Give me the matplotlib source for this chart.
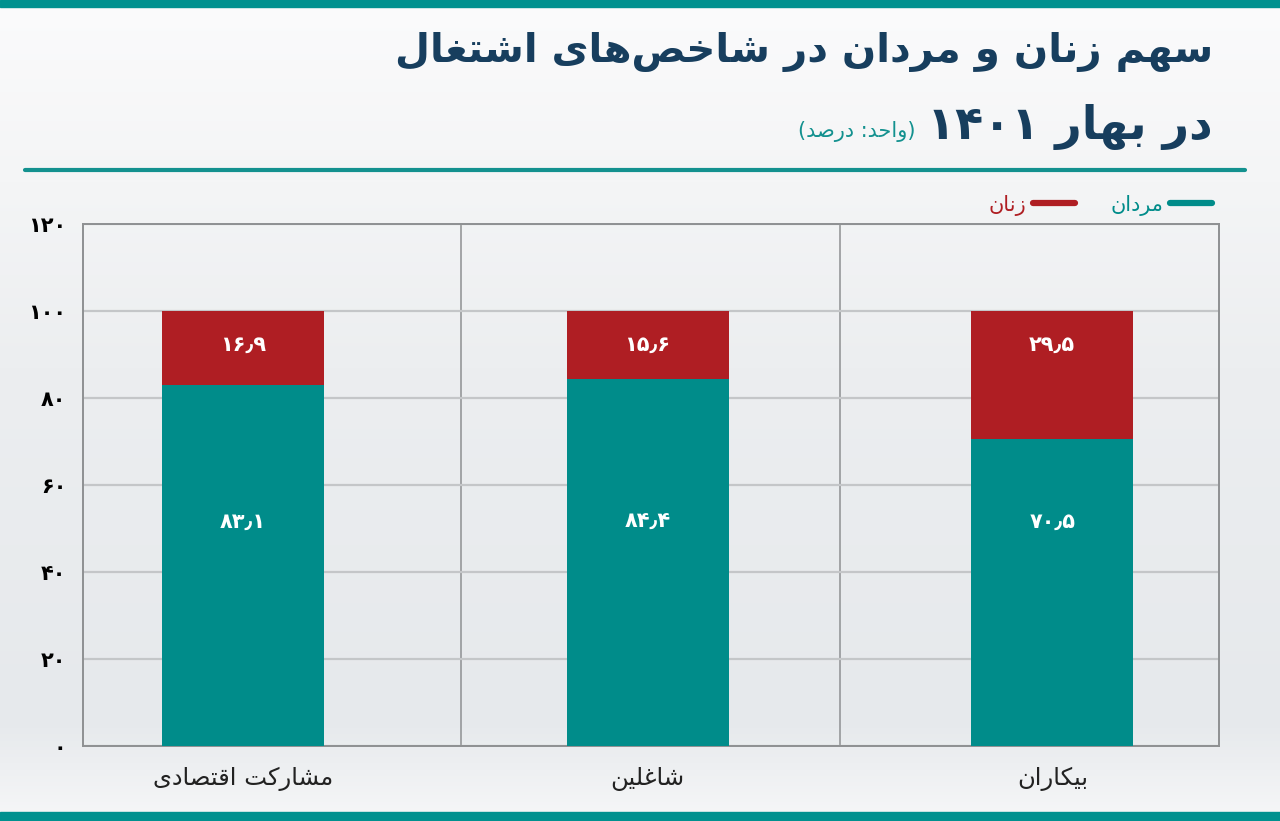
import re
import numpy as np
import matplotlib
matplotlib.use("Agg")
import matplotlib.pyplot as plt
from matplotlib.lines import Line2D
from matplotlib.colors import LinearSegmentedColormap

plt.rcParams['font.family'] = ['DejaVu Sans']

# داده‌ها
categories = ['مشارکت اقتصادی', 'شاغلین', 'بیکاران']
men = [83.1, 84.4, 70.5]
women = [16.9, 15.6, 29.5]
men_labels = ['۸۳٫۱', '۸۴٫۴', '۷۰٫۵']
women_labels = ['۱۶٫۹', '۱۵٫۶', '۲۹٫۵']
yticks = [0, 20, 40, 60, 80, 100, 120]
ytick_labels = ['۰', '۲۰', '۴۰', '۶۰', '۸۰', '۱۰۰', '۱۲۰']

title1 = 'سهم زنان و مردان در شاخص\u200cهای اشتغال'
title2 = 'در بهار ۱۴۰۱'
unit = '(واحد: درصد)'
legend_names = ['زنان', 'مردان']

TEAL = '#008c8a'
RED = '#af1e23'
NAVY = '#173e5e'

# حروف فارسی: (جدا، پایانی، آغازی، میانی)
FORMS = {
    'ا': ('\uFE8D', '\uFE8E', None, None),
    'ب': ('\uFE8F', '\uFE90', '\uFE91', '\uFE92'),
    'ت': ('\uFE95', '\uFE96', '\uFE97', '\uFE98'),
    'ح': ('\uFEA1', '\uFEA2', '\uFEA3', '\uFEA4'),
    'خ': ('\uFEA5', '\uFEA6', '\uFEA7', '\uFEA8'),
    'د': ('\uFEA9', '\uFEAA', None, None),
    'ر': ('\uFEAD', '\uFEAE', None, None),
    'ز': ('\uFEAF', '\uFEB0', None, None),
    'س': ('\uFEB1', '\uFEB2', '\uFEB3', '\uFEB4'),
    'ش': ('\uFEB5', '\uFEB6', '\uFEB7', '\uFEB8'),
    'ص': ('\uFEB9', '\uFEBA', '\uFEBB', '\uFEBC'),
    'غ': ('\uFECD', '\uFECE', '\uFECF', '\uFED0'),
    'ق': ('\uFED5', '\uFED6', '\uFED7', '\uFED8'),
    'ل': ('\uFEDD', '\uFEDE', '\uFEDF', '\uFEE0'),
    'م': ('\uFEE1', '\uFEE2', '\uFEE3', '\uFEE4'),
    'ن': ('\uFEE5', '\uFEE6', '\uFEE7', '\uFEE8'),
    'ه': ('\uFEE9', '\uFEEA', '\uFEEB', '\uFEEC'),
    'و': ('\uFEED', '\uFEEE', None, None),
    'ی': ('\uFBFC', '\uFBFD', '\uFBFE', '\uFBFF'),
    'ک': ('\uFB8E', '\uFB8F', '\uFB90', '\uFB91'),
}


def fa(text):
    # شکل‌دهی حروف و راست‌به‌چپ کردن متن
    out = []
    for i, c in enumerate(text):
        if c not in FORMS:
            out.append(c)
            continue
        prev = text[i - 1] if i > 0 else None
        nxt = text[i + 1] if i + 1 < len(text) else None
        jp = prev in FORMS and FORMS[prev][2] is not None
        jn = nxt in FORMS and FORMS[c][2] is not None
        iso, fin, ini, med = FORMS[c]
        if jp and jn:
            out.append(med)
        elif jp:
            out.append(fin)
        elif jn:
            out.append(ini)
        else:
            out.append(iso)
    s = ''.join(out).replace('\u200c', '')
    parts = re.split('([۰-۹٫]+)', s)
    res = []
    for p in reversed(parts):
        if re.fullmatch('[۰-۹٫]+', p):
            res.append(p)
        else:
            res.append(p[::-1])
    s = ''.join(res)
    return s.translate(str.maketrans('()', ')('))


fig = plt.figure(figsize=(12.8, 8.21), dpi=100)

# پس‌زمینه
bg = fig.add_axes([0, 0, 1, 1], zorder=-5)
cmap = LinearSegmentedColormap.from_list('bg', [(0, '#f6f7f8'), (0.12, '#e6e9ec'),
                                                (0.55, '#eceef0'), (0.78, '#f4f5f6'),
                                                (1, '#fbfbfc')])
bg.imshow(np.linspace(0, 1, 256).reshape(-1, 1), aspect='auto', cmap=cmap,
          extent=[0, 1, 0, 1], origin='lower')
bg.set_xlim(0, 1)
bg.set_ylim(0, 1)
bg.axis('off')
bg.add_patch(plt.Rectangle((0, 1 - 7 / 821), 1, 7 / 821, color='#00918f'))
bg.add_patch(plt.Rectangle((0, 0), 1, 9 / 821, color='#00918f'))
bg.plot([25 / 1280, 1245 / 1280], [1 - 170 / 821] * 2, color='#13918f', lw=3,
        solid_capstyle='round')

ax = fig.add_axes([83 / 1280, 1 - 746 / 821, 1136 / 1280, 522 / 821])
ax.set_facecolor('none')
x = np.arange(len(categories))
ax.bar(x, men, width=0.4, color=TEAL, zorder=3)
ax.bar(x, women, bottom=men, width=0.4, color=RED, zorder=3)

for i in range(len(categories)):
    ax.text(x[i], 92.2, women_labels[i], color='white', fontsize=15,
            fontweight='bold', ha='center', va='center', zorder=4)
    ax.text(x[i], 51.5, men_labels[i], color='white', fontsize=15,
            fontweight='bold', ha='center', va='center', zorder=4)

ax.set_xlim(-0.395, 2.412)
ax.set_ylim(0, 120)
ax.set_yticks(yticks)
ax.set_yticklabels(ytick_labels, fontsize=15, fontweight='bold')
ax.set_xticks(x)
ax.set_xticklabels([fa(c) for c in categories], fontsize=17.5, color='#222222')
ax.tick_params(length=0)
ax.tick_params(axis='y', pad=12)
ax.tick_params(axis='x', pad=15)
ax.grid(axis='y', color='#c4c6c8', lw=1.6, zorder=0)
for xv in [0.5387, 1.4767]:
    ax.axvline(xv, color='#8e9092', lw=1.1, zorder=1)
for sp in ax.spines.values():
    sp.set_color('#8e9092')
    sp.set_linewidth(1.4)

handles = [Line2D([], [], color=RED, lw=4.5, solid_capstyle='round'),
           Line2D([], [], color=TEAL, lw=4.5, solid_capstyle='round')]
leg = fig.legend(handles, [fa(n) for n in legend_names], ncol=2, markerfirst=False,
                 frameon=False, loc='center right', bbox_to_anchor=(1212 / 1280, 1 - 205 / 821),
                 fontsize=15, handlelength=2.0, columnspacing=1.7, handletextpad=0.35,
                 borderpad=0, borderaxespad=0)
for t, c in zip(leg.get_texts(), [RED, TEAL]):
    t.set_color(c)

fig.text(1213 / 1280, 1 - 52 / 821, fa(title1), fontsize=29, fontweight='bold',
         color=NAVY, ha='right', va='center')
fig.text(1213 / 1280, 1 - 127 / 821, fa(title2), fontsize=33, fontweight='bold',
         color=NAVY, ha='right', va='center')
fig.text(915 / 1280, 1 - 132 / 821, fa(unit), fontsize=15, color='#13918f',
         ha='right', va='center')

fig.savefig('out.png', dpi=100)
